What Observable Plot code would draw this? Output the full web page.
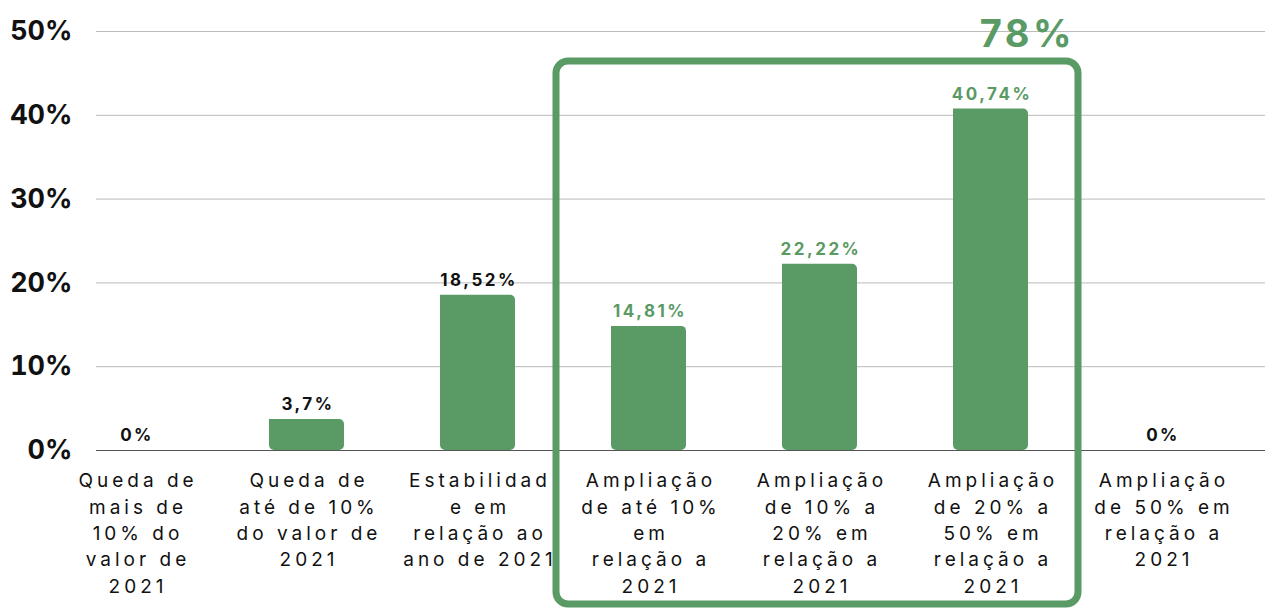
<!DOCTYPE html>
<html><head><meta charset="utf-8">
<script src="https://cdn.jsdelivr.net/npm/d3@7"></script>
<script src="https://cdn.jsdelivr.net/npm/@observablehq/plot@0.6"></script>
<style>
html,body{margin:0;padding:0;background:#fff}
svg{display:block}
</style>
</head><body><div id="chart"></div>
<script>
const categories = [
  "Queda de mais de 10% do valor de 2021",
  "Queda de até de 10% do valor de 2021",
  "Estabilidade em relação ao ano de 2021",
  "Ampliação de até 10% em relação a 2021",
  "Ampliação de 10% a 20% em relação a 2021",
  "Ampliação de 20% a 50% em relação a 2021",
  "Ampliação de 50% em relação a 2021"
];
const tickLabels = [
  "Queda de\nmais de\n10% do\nvalor de\n2021",
  "Queda de\naté de 10%\ndo valor de\n2021",
  "Estabilidad\ne em\nrelação ao\nano de 2021",
  "Ampliação\nde até 10%\nem\nrelação a\n2021",
  "Ampliação\nde 10% a\n20% em\nrelação a\n2021",
  "Ampliação\nde 20% a\n50% em\nrelação a\n2021",
  "Ampliação\nde 50% em\nrelação a\n2021"
];
const values = [0, 3.7, 18.52, 14.81, 22.22, 40.74, 0];
const valueLabels = ["0%", "3,7%", "18,52%", "14,81%", "22,22%", "40,74%", "0%"];
const highlighted = [false, false, false, true, true, true, false];
const highlightLabel = "78%";
const yTicks = [0, 10, 20, 30, 40, 50];

(function () {
const green = "#5a9a64";
const data = categories.map((c, i) => ({category: c, value: values[i] / 100, label: valueLabels[i], hi: highlighted[i]}));

const plot = Plot.plot({
  width: 1265, height: 608,
  marginTop: 31, marginBottom: 158, marginLeft: 96, marginRight: 0,
  style: {fontFamily: "Inter, 'Noto Sans', sans-serif", background: "#fff", overflow: "visible"},
  x: {domain: categories, range: [47.6, 1249.9], paddingInner: 0.563, paddingOuter: 0.2817, label: null},
  y: {domain: [0, 0.5], label: null},
  marks: [
    Plot.gridY(yTicks.map(d => d / 100), {stroke: "#bbbbbb", strokeOpacity: 1, strokeWidth: 1}),
    Plot.axisY(yTicks.map(d => d / 100), {tickFormat: d => Math.round(d * 100) + "%", tickSize: 0, tickPadding: 24, fontSize: 27, fontWeight: 700, fill: "#111", label: null}),
    Plot.barY(data.filter(d => d.value > 0), {x: "category", y: "value", fill: green, ry2: 5, rx2: 5}),
    Plot.ruleY([0], {stroke: "#555", strokeWidth: 1}),
    Plot.text(data, {x: "category", y: "value", text: "label", dy: -15, dx: 1, fill: d => d.hi ? green : "#111", fontWeight: 700, fontSize: 17}),
    Plot.axisX({tickSize: 0, tickPadding: 18, lineAnchor: "top", lineHeight: 1.39, fontSize: 19, fill: "#111", label: null,
      tickFormat: d => tickLabels[categories.indexOf(d)], dx: 2})
  ]
});
document.getElementById("chart").appendChild(plot);

const svg = d3.select(plot);
svg.selectAll('g[aria-label="x-axis tick label"] text').style("letter-spacing", "4px");
svg.selectAll('g[aria-label="text"] text').style("letter-spacing", "2.5px");

const sx = plot.scale("x"), sy = plot.scale("y");
const boxLeft = sx.apply(categories[3]) - 55;
const boxRight = sx.apply(categories[5]) + sx.bandwidth + 50;
const boxTop = sy.apply(0.5) + 30;
svg.append("rect")
  .attr("x", boxLeft).attr("y", boxTop)
  .attr("width", boxRight - boxLeft).attr("height", 604 - boxTop)
  .attr("rx", 12).attr("fill", "none")
  .attr("stroke", green).attr("stroke-width", 7);
svg.append("text")
  .attr("x", sx.apply(categories[5]) + sx.bandwidth / 2 + 37)
  .attr("y", 47)
  .attr("text-anchor", "middle")
  .attr("fill", green)
  .attr("font-size", 38).attr("font-weight", 700)
  .style("letter-spacing", "3.5px")
  .text(highlightLabel);
})();
</script>
</body></html>
